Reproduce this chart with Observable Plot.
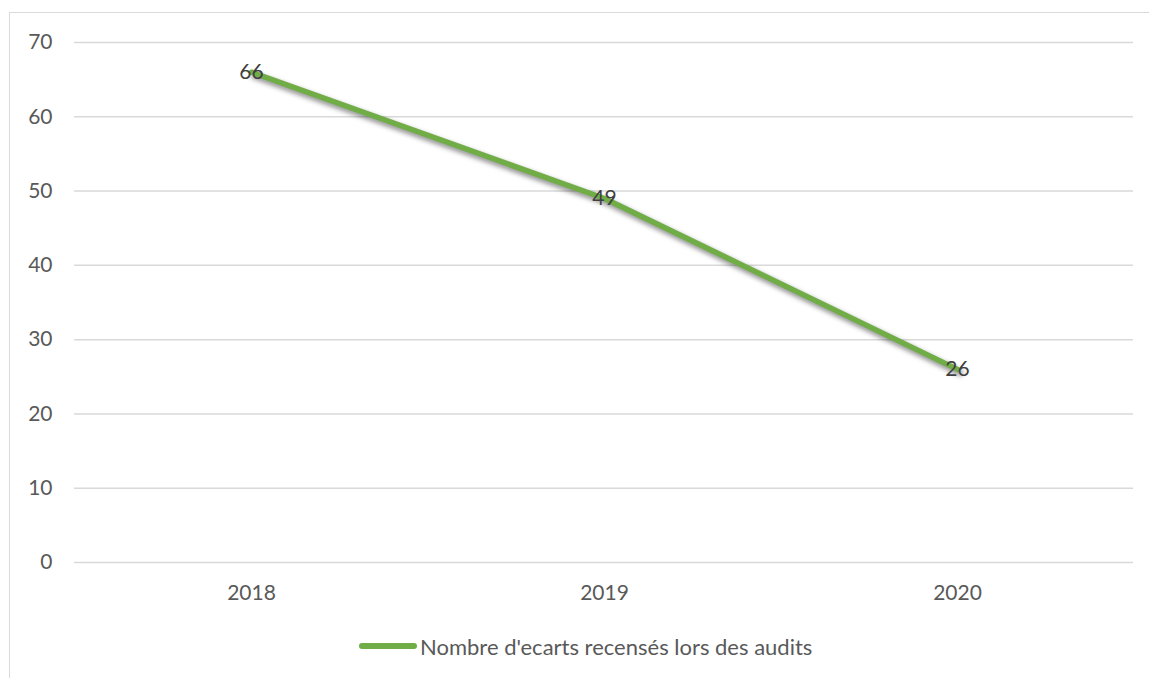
<!DOCTYPE html>
<html><head><meta charset="utf-8">
<script src="https://cdn.jsdelivr.net/npm/d3@7"></script>
<script src="https://cdn.jsdelivr.net/npm/@observablehq/plot@0.6"></script>
<style>
body{margin:0;background:#fff;font-family:Lato,sans-serif;}
#wrap{position:relative;width:1149px;height:678px;overflow:hidden;background:#fff;}
#frame{position:absolute;left:9px;top:12px;width:1200px;height:700px;border-left:1.5px solid #d9d9d9;border-top:1.5px solid #d9d9d9;}
#chart{position:absolute;left:0;top:0;}
#legend{position:absolute;left:359px;top:634px;height:24px;display:flex;align-items:center;font-size:22px;color:#595959;white-space:nowrap;}
#legend .sw{width:58px;height:6.5px;border-radius:3.5px;background:#70AD47;margin-right:3px;}
.shadow{filter:blur(2.5px);}
</style></head>
<body>
<div id="wrap"><div id="frame"></div><div id="chart"></div>
<div id="legend"><span class="sw"></span><span id="legtext"></span></div></div>
<script>
const years = ["2018", "2019", "2020"];
const ecarts = [66, 49, 26];
const seriesName = "Nombre d'ecarts recensés lors des audits";
const yTicks = [0, 10, 20, 30, 40, 50, 60, 70];

const data = years.map((y, i) => ({year: y, value: ecarts[i]}));

const chart = Plot.plot({
  width: 1149,
  height: 620,
  marginLeft: 74,
  marginRight: 16,
  marginTop: 42,
  marginBottom: 58,
  style: {fontFamily: "Lato, sans-serif", fontSize: "21px", color: "#595959", background: "transparent"},
  x: {type: "point", domain: years, padding: 0.5, label: null, tickSize: 0, tickPadding: 23},
  y: {domain: [0, 70], ticks: yTicks, label: null, tickSize: 0, tickPadding: 22},
  marks: [
    Plot.ruleY(yTicks, {stroke: "#d9d9d9", strokeWidth: 1.5}),
    Plot.line(data, {x: "year", y: "value", stroke: "#000", strokeOpacity: 0.45, strokeWidth: 6, dx: 2.5, dy: 3.5, className: "shadow", strokeLinecap: "round"}),
    Plot.line(data, {x: "year", y: "value", stroke: "#70AD47", strokeWidth: 5.5, strokeLinecap: "round", strokeLinejoin: "round"}),
    Plot.text(data, {x: "year", y: "value", text: d => String(d.value), fill: "#404040", fontSize: 21, textAnchor: "middle"})
  ]
});
document.getElementById("chart").appendChild(chart);
document.getElementById("legtext").textContent = seriesName;
</script>
</body></html>
